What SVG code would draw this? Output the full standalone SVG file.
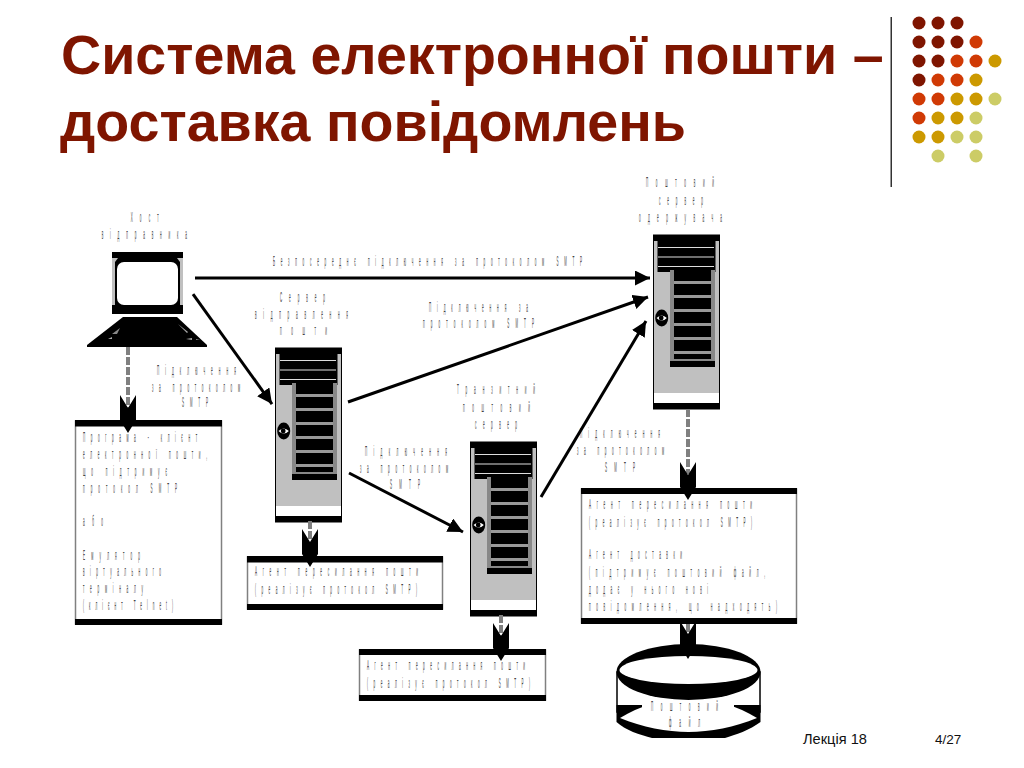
<svg xmlns="http://www.w3.org/2000/svg" width="1024" height="768" viewBox="0 0 1024 768">
<style>
text{font-family:"Liberation Sans",Arial,sans-serif}
.title{font-size:55.6px;font-weight:bold;fill:#7f1500}
.foot{font-size:13.5px;fill:#111}
.t{font-size:15px;fill:#444;text-anchor:start}
.line{fill:none;stroke:#000;stroke-width:3;marker-end:url(#head)}
.stem{fill:none;stroke:#808080;stroke-width:4;stroke-dasharray:8 2}
.box{fill:#fff;stroke:#808080;stroke-width:1.5}
.d{fill:#7f1500}.o{fill:#d03a05}.g{fill:#cc9900}.l{fill:#cccc66}
</style>
<defs>
<marker id="head" markerUnits="userSpaceOnUse" markerWidth="16" markerHeight="16" refX="15" refY="7.5" orient="auto"><path d="M0,0L15,7.5L0,15Z" fill="#000"/></marker>
<path id="bigarrow" d="M-8,-38L0,-25L8,-38V-13L0,0L-8,-13Z" fill="#000"/>
<g id="server">
<rect x="0.5" y="0" width="66" height="174" fill="#c0c0c0" stroke="#000" stroke-width="1"/>
<rect x="0" y="0" width="67" height="6" fill="#000"/>
<rect x="1" y="158" width="65" height="10" fill="#fff"/>
<rect x="0" y="168" width="67" height="6" fill="#000"/>
<rect x="4.500" y="5" width="58" height="32" fill="#000"/>
<rect x="5" y="12" width="56" height="1" fill="#ddd"/>
<rect x="5" y="21.500" width="56" height="1" fill="#ddd"/>
<rect x="5" y="31" width="56" height="1" fill="#ddd"/>
<rect x="17" y="35" width="45" height="96" fill="#888"/>
<rect x="17" y="126" width="45" height="6" fill="#000"/>
<rect x="21" y="35" width="37" height="89" fill="#000"/>
<g fill="#999"><rect x="21" y="46" width="37" height="3"/><rect x="21" y="60" width="37" height="3"/><rect x="21" y="74" width="37" height="3"/><rect x="21" y="88" width="37" height="3"/><rect x="21" y="102" width="37" height="3"/><rect x="21" y="116" width="37" height="3"/></g>
<ellipse cx="8.700" cy="83" rx="6.500" ry="8.500" fill="#000"/>
<path d="M3.500,83Q8.700,78 13.900,83Q8.700,88 3.500,83Z" fill="#fff"/>
<circle cx="8.200" cy="83" r="2.400" fill="#000"/>
</g>
</defs>
<rect width="1024" height="768" fill="#fff"/>
<g id="title">
<text class="title" x="61" y="74">Система електронної пошти –</text>
<text class="title" x="60" y="141">доставка повідомлень</text>
</g>
<g id="decor">
<rect x="890.500" y="17" width="1.500" height="170" fill="#333"/>
<g>
<circle class="d" cx="919" cy="23" r="6.500"/><circle class="d" cx="938" cy="23" r="6.500"/><circle class="d" cx="957" cy="23" r="6.500"/>
<circle class="d" cx="919" cy="42" r="6.500"/><circle class="d" cx="938" cy="42" r="6.500"/><circle class="d" cx="957" cy="42" r="6.500"/><circle class="o" cx="976" cy="42" r="6.500"/>
<circle class="d" cx="919" cy="61" r="6.500"/><circle class="d" cx="938" cy="61" r="6.500"/><circle class="o" cx="957" cy="61" r="6.500"/><circle class="o" cx="976" cy="61" r="6.500"/><circle class="g" cx="995" cy="61" r="6.500"/>
<circle class="d" cx="919" cy="80" r="6.500"/><circle class="o" cx="938" cy="80" r="6.500"/><circle class="o" cx="957" cy="80" r="6.500"/><circle class="g" cx="976" cy="80" r="6.500"/>
<circle class="o" cx="919" cy="99" r="6.500"/><circle class="o" cx="938" cy="99" r="6.500"/><circle class="g" cx="957" cy="99" r="6.500"/><circle class="g" cx="976" cy="99" r="6.500"/><circle class="l" cx="995" cy="99" r="6.500"/>
<circle class="o" cx="919" cy="118" r="6.500"/><circle class="g" cx="938" cy="118" r="6.500"/><circle class="g" cx="957" cy="118" r="6.500"/><circle class="l" cx="976" cy="118" r="6.500"/>
<circle class="g" cx="919" cy="137" r="6.500"/><circle class="g" cx="938" cy="137" r="6.500"/><circle class="l" cx="957" cy="137" r="6.500"/><circle class="l" cx="976" cy="137" r="6.500"/>
<circle class="l" cx="938" cy="156" r="6.500"/><circle class="l" cx="976" cy="156" r="6.500"/>
</g>
</g>

<g id="host">
<rect x="112" y="252" width="71" height="62" fill="#c0c0c0"/>
<rect x="112" y="252" width="71" height="6" fill="#000"/>
<rect x="112" y="305" width="71" height="9" fill="#000"/>
<path d="M118,258H177L180,262V305H115V262Z" fill="#000"/>
<rect x="117" y="262" width="61" height="43" rx="7" fill="#fff"/>
<path d="M123,317H177L207,345V347H87V345Z" fill="#000"/>
<path d="M186,339l6,-1v2zM178,324l10,8l-1,1zM108,339l4,-2v2z" fill="#aaa"/>
<path d="M112,334l8,-6l-3,6zM196,339l4,1h-4z" fill="#888"/>
<text class="t" transform="translate(130.700 221.700) scale(.2 1)" textLength="140">Хост</text>
<text class="t" transform="translate(101.700 239) scale(.2 1)" textLength="426">відправника</text>
</g>
<g id="server-send">
<use href="#server" x="275" y="348"/>
<text class="t" transform="translate(280 301.700) scale(.2 1)" textLength="225">Сервер</text>
<text class="t" transform="translate(255 319) scale(.2 1)" textLength="465">відправлення</text>
<text class="t" transform="translate(280 335) scale(.2 1)" textLength="235">пошти</text>
</g>
<g id="server-transit">
<use href="#server" x="470" y="442"/>
<text class="t" transform="translate(457 394) scale(.2 1)" textLength="390">Транзитний</text>
<text class="t" transform="translate(463 412) scale(.2 1)" textLength="335">поштовий</text>
<text class="t" transform="translate(475 429) scale(.2 1)" textLength="210">сервер</text>
</g>
<g id="server-recv">
<use href="#server" x="653" y="235"/>
<text class="t" transform="translate(646 187) scale(.2 1)" textLength="340">Поштовий</text>
<text class="t" transform="translate(659 205) scale(.2 1)" textLength="220">сервер</text>
<text class="t" transform="translate(639 222) scale(.2 1)" textLength="415">одержувача</text>
</g>
<g id="client-box">
<rect class="box" x="75.500" y="421" width="146" height="203"/>
<rect x="75" y="420" width="147" height="6.500" fill="#000"/>
<rect x="75" y="619" width="147" height="6" fill="#000"/>
<text class="t" transform="translate(83 442) scale(.2 1)" textLength="570">Програма - клієнт</text>
<text class="t" transform="translate(83 459) scale(.2 1)" textLength="620">електронної пошти,</text>
<text class="t" transform="translate(83 476) scale(.2 1)" textLength="420">що підтримує</text>
<text class="t" transform="translate(83 493) scale(.2 1)" textLength="470">протокол SMTP</text>
<text class="t" transform="translate(83 526) scale(.2 1)" textLength="100">або</text>
<text class="t" transform="translate(83 560) scale(.2 1)" textLength="285">Емулятор</text>
<text class="t" transform="translate(83 576) scale(.2 1)" textLength="390">віртуального</text>
<text class="t" transform="translate(83 593) scale(.2 1)" textLength="300">терміналу</text>
<text class="t" transform="translate(83 610) scale(.2 1)" textLength="450">(клієнт Telnet)</text>
</g>
<g id="agent-send">
<rect class="box" x="247.500" y="557" width="195" height="52"/>
<rect x="247" y="556" width="196" height="6.500" fill="#000"/>
<rect x="247" y="604" width="196" height="6" fill="#000"/>
<text class="t" transform="translate(255 576) scale(.2 1)" textLength="815">Агент пересилання пошти</text>
<text class="t" transform="translate(255 594) scale(.2 1)" textLength="810">(реалізує протокол SMTP)</text>
</g>
<g id="agent-transit">
<rect class="box" x="359.500" y="650" width="186" height="50"/>
<rect x="359" y="649" width="187" height="6" fill="#000"/>
<rect x="359" y="695" width="187" height="6" fill="#000"/>
<text class="t" transform="translate(367 670) scale(.2 1)" textLength="790">Агент пересилання пошти</text>
<text class="t" transform="translate(367 688) scale(.2 1)" textLength="815">(реалізує протокол SMTP)</text>
</g>
<g id="agent-recv">
<rect class="box" x="581.500" y="489" width="215" height="134"/>
<rect x="581" y="488" width="216" height="6" fill="#000"/>
<rect x="581" y="618" width="216" height="6" fill="#000"/>
<text class="t" transform="translate(589 509) scale(.2 1)" textLength="815">Агент пересилання пошти</text>
<text class="t" transform="translate(589 527) scale(.2 1)" textLength="815">(реалізує протокол SMTP)</text>
<text class="t" transform="translate(589 559) scale(.2 1)" textLength="465">Агент доставки</text>
<text class="t" transform="translate(589 577) scale(.2 1)" textLength="880">(підтримує поштовий файл,</text>
<text class="t" transform="translate(589 594) scale(.2 1)" textLength="595">додає у нього нові</text>
<text class="t" transform="translate(589 611) scale(.2 1)" textLength="940">повідомлення, що надходять)</text>
</g>
<g id="mailbox">
<rect x="617" y="672" width="143" height="40" fill="#fff" stroke="#000" stroke-width="1.500"/>
<path d="M616.500,705H760.500V722C750,730 735,735 725,738H652C640,735 625,730 616.500,722Z" fill="#000"/>
<path d="M620,718C630,712 640,707 650,705H727C737,707 747,712 757,718C735,727 710,732 688.500,732C667,732 642,727 620,718Z" fill="#fff"/>
<ellipse cx="688.500" cy="672" rx="72" ry="28" fill="#000"/>
<ellipse cx="688.500" cy="670" rx="69" ry="14" fill="#fff"/>
<rect x="642" y="700.500" width="92" height="8" fill="#fff"/>
<text class="t" transform="translate(651 711) scale(.2 1)" textLength="335">Поштовий</text>
<text class="t" transform="translate(669 727) scale(.2 1)" textLength="155">файл</text>
</g>
<g id="labels">
<text class="t" transform="translate(273 266) scale(.2 1)" textLength="1545">Безпосереднє підключення за протоколом SMTP</text>
<text class="t" transform="translate(429 311.700) scale(.2 1)" textLength="495">Підключення за</text>
<text class="t" transform="translate(423 328) scale(.2 1)" textLength="555">протоколом SMTP</text>
<text class="t" transform="translate(157 375) scale(.2 1)" textLength="395">Підключення</text>
<text class="t" transform="translate(152 392) scale(.2 1)" textLength="440">за протоколом</text>
<text class="t" transform="translate(182 407) scale(.2 1)" textLength="130">SMTP</text>
<text class="t" transform="translate(365 456) scale(.2 1)" textLength="410">Підключення</text>
<text class="t" transform="translate(360 473) scale(.2 1)" textLength="440">за протоколом</text>
<text class="t" transform="translate(390 489) scale(.2 1)" textLength="150">SMTP</text>
<text class="t" transform="translate(580 438) scale(.2 1)" textLength="400">Підключення</text>
<text class="t" transform="translate(577 455) scale(.2 1)" textLength="435">за протоколом</text>
<text class="t" transform="translate(605 472) scale(.2 1)" textLength="150">SMTP</text>
</g>
<g id="connectors">
<path class="line" d="M195,278H650"/>
<path class="line" d="M193,294L272,404"/>
<path class="line" d="M348,402L648,297"/>
<path class="line" d="M349,473L463,532"/>
<path class="line" d="M541,497L646,321"/>
<path class="stem" d="M128,347V408"/>
<use href="#bigarrow" x="128" y="433"/>
<path class="stem" d="M310,521V541"/>
<use href="#bigarrow" x="310" y="567"/>
<path class="stem" d="M501,615V636"/>
<use href="#bigarrow" x="501" y="661"/>
<path class="stem" d="M688,409V474"/>
<use href="#bigarrow" x="688" y="500"/>
<path class="stem" d="M688,624V634"/>
<use href="#bigarrow" x="688" y="659"/>
</g>
<g id="footer">
<text class="foot" x="803" y="744" style="font-size:14.6px">Лекція 18</text>
<text class="foot" x="935" y="744">4/27</text>
</g>
</svg>
